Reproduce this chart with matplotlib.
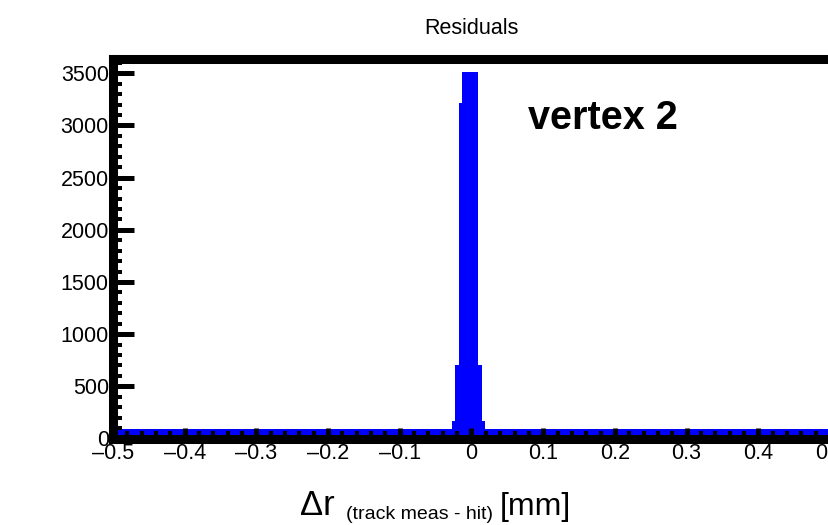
import numpy as np
import matplotlib
matplotlib.use("Agg")
import matplotlib.pyplot as plt
from matplotlib.ticker import MultipleLocator

plt.rcParams['font.family'] = ['Liberation Sans', 'DejaVu Sans']

# histogram: 200 bins of 0.005 mm from -0.5 to 0.5
bin_edges = np.linspace(-0.5, 0.5, 201)
tail_left = [75] * 95
peak = [150, 690, 3200, 3490, 3490, 3490, 690, 150]
tail_right = [75] * 97
counts = tail_left + peak + tail_right

x_ticks = [-0.5, -0.4, -0.3, -0.2, -0.1, 0, 0.1, 0.2, 0.3, 0.4, 0.5]
x_labels = ["\u20130.5", "\u20130.4", "\u20130.3", "\u20130.2", "\u20130.1",
            "0", "0.1", "0.2", "0.3", "0.4", "0.5"]
y_ticks = [0, 500, 1000, 1500, 2000, 2500, 3000, 3500]

fig = plt.figure(figsize=(8.29, 5.25), dpi=100)
ax = fig.add_axes([113 / 829, (525 - 438.5) / 525, 717 / 829, 379.5 / 525])

ax.stairs(counts, bin_edges, fill=True, facecolor="blue",
          edgecolor="blue", linewidth=3.6)

ax.set_xlim(-0.5, 0.5)
ax.set_ylim(0, 3637)

for s in ax.spines.values():
    s.set_linewidth(6.5)
    s.set_color("black")

ax.set_xticks(x_ticks)
ax.set_xticklabels(x_labels)
ax.set_yticks(y_ticks)
ax.xaxis.set_minor_locator(MultipleLocator(0.02))
ax.yaxis.set_minor_locator(MultipleLocator(100))

ax.tick_params(axis="y", which="major", direction="in", length=15, width=3.6,
               labelsize=15.5, pad=3)
ax.tick_params(axis="y", which="minor", direction="in", length=6.8, width=2.9)
ax.tick_params(axis="x", which="major", direction="in", length=8, width=3.6,
               labelsize=15.5, pad=3)
ax.tick_params(axis="x", which="minor", direction="in", length=6, width=2.9)

ax.text(528 / 829, 1 - 129 / 525, "vertex 2", transform=fig.transFigure,
        fontsize=28.5, fontweight="bold", ha="left", va="baseline")

fig.text(471 / 829, 1 - 28 / 525, "Residuals", fontsize=15.5,
         ha="center", va="center")

# axis title pieces
fig.text(300 / 829, 1 - 515 / 525, "\u0394r", fontsize=25, ha="left", va="baseline")
fig.text(346 / 829, 1 - 519 / 525, "(track meas - hit)", fontsize=14,
         ha="left", va="baseline")
fig.text(500 / 829, 1 - 515 / 525, "[mm]", fontsize=23, ha="left", va="baseline")

plt.savefig("out.png", dpi=100)
